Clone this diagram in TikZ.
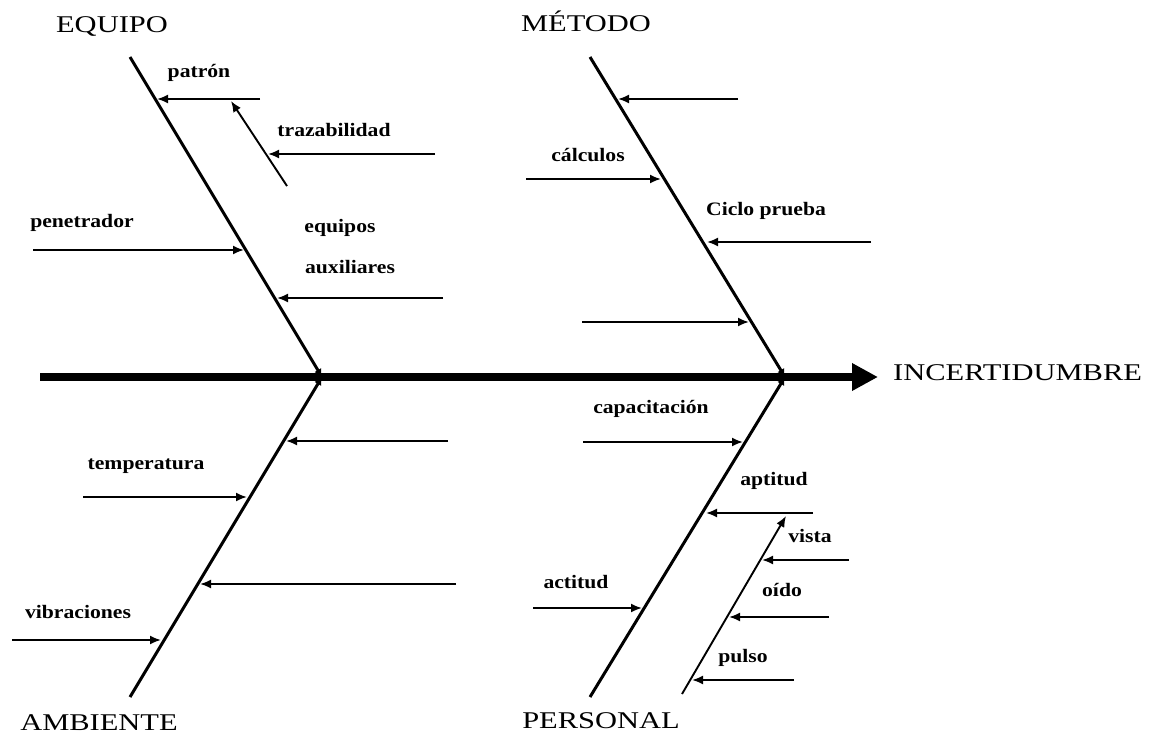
\documentclass[tikz,border=0pt]{standalone}
\usepackage{fontspec}
\setmainfont{Liberation Serif}
\newfontfamily\bigfont[FakeStretch=1.27]{Liberation Serif}
\newfontfamily\labfont[FakeStretch=1.14]{Liberation Serif}
\usetikzlibrary{arrows.meta}

\begin{document}
\begin{tikzpicture}[x=1pt,y=-1pt]
        \useasboundingbox (0,0) rectangle (1153,734);

        % spine and bones
        \coordinate (S) at (40,377);
        \coordinate (H) at (878,377);
        \coordinate (J1) at (322,377);
        \coordinate (J2) at (785,377);
        \coordinate (E0) at (130,57);
        \coordinate (M0) at (590,57);
        \coordinate (A0) at (130,697);
        \coordinate (P0) at (590,697);

        % EQUIPO
        \coordinate (e1a) at (260,99);  \coordinate (e1b) at (157,99);
        \coordinate (e2a) at (287,186); \coordinate (e2b) at (231,101);
        \coordinate (e3a) at (435,154); \coordinate (e3b) at (268,154);
        \coordinate (e4a) at (33,250);  \coordinate (e4b) at (244,250);
        \coordinate (e5a) at (443,298); \coordinate (e5b) at (277,298);
        % METODO
        \coordinate (m1a) at (738,99);  \coordinate (m1b) at (618,99);
        \coordinate (m2a) at (526,179); \coordinate (m2b) at (661,179);
        \coordinate (m3a) at (871,242); \coordinate (m3b) at (707,242);
        \coordinate (m4a) at (582,322); \coordinate (m4b) at (749,322);
        % AMBIENTE
        \coordinate (a1a) at (448,441); \coordinate (a1b) at (286,441);
        \coordinate (a2a) at (83,497);  \coordinate (a2b) at (247,497);
        \coordinate (a3a) at (456,584); \coordinate (a3b) at (200,584);
        \coordinate (a4a) at (12,640);  \coordinate (a4b) at (161,640);
        % PERSONAL
        \coordinate (p1a) at (583,442); \coordinate (p1b) at (743,442);
        \coordinate (p2a) at (813,513); \coordinate (p2b) at (706,513);
        \coordinate (p3a) at (682,694); \coordinate (p3b) at (786,516);
        \coordinate (p4a) at (849,560); \coordinate (p4b) at (762,560);
        \coordinate (p5a) at (829,617); \coordinate (p5b) at (729,617);
        \coordinate (p6a) at (794,680); \coordinate (p6b) at (692,680);
        \coordinate (p7a) at (533,608); \coordinate (p7b) at (642,608);

        \begin{scope}[every node/.style={anchor=base,inner sep=0pt,
                    font=\bigfont\fontsize{24}{26}\selectfont}]
            \node (EQ) at (112,32) {EQUIPO};
            \node (ME) at (586,31) {MÉTODO};
            \node (AM) at (99,730) {AMBIENTE};
            \node (PE) at (601,728) {PERSONAL};
            \node[anchor=base west] (IN) at (893,380) {INCERTIDUMBRE};
        \end{scope}

        \begin{scope}[every node/.style={anchor=base,inner sep=0pt,
                    font=\labfont\bfseries\fontsize{19}{21}\selectfont}]
            \node (patron) at (199,77) {patrón};
            \node (traz) at (334,136) {trazabilidad};
            \node (pene) at (82,227) {penetrador};
            \node (equi) at (340,232) {equipos};
            \node (auxi) at (350,273) {auxiliares};
            \node (calc) at (588,161) {cálculos};
            \node (cicl) at (766,215) {Ciclo prueba};
            \node (temp) at (146,469) {temperatura};
            \node (vibr) at (78,618) {vibraciones};
            \node (capa) at (651,413) {capacitación};
            \node (apti) at (774,485) {aptitud};
            \node (vist) at (810,542) {vista};
            \node (oido) at (782,596) {oído};
            \node (puls) at (743,662) {pulso};
            \node (acti) at (576,588) {actitud};
        \end{scope}

        \draw [line width=8pt,-{Triangle[length=26pt,width=26pt]}] (S) -- (H);

        \begin{scope}[every edge/.style={draw,line width=3pt,
                    -{Latex[length=8pt,width=8pt]}}]
            \path (E0) edge (J1);
            \path (A0) edge (J1);
            \path (M0) edge (J2);
            \path (P0) edge (J2);
        \end{scope}

        \begin{scope}[every edge/.style={draw,line width=1.9pt,
                    -{Latex[length=11pt,width=9pt]}}]
            \path (e1a) edge (e1b);
            \path (e2a) edge (e2b);
            \path (e3a) edge (e3b);
            \path (e4a) edge (e4b);
            \path (e5a) edge (e5b);
            \path (m1a) edge (m1b);
            \path (m2a) edge (m2b);
            \path (m3a) edge (m3b);
            \path (m4a) edge (m4b);
            \path (a1a) edge (a1b);
            \path (a2a) edge (a2b);
            \path (a3a) edge (a3b);
            \path (a4a) edge (a4b);
            \path (p1a) edge (p1b);
            \path (p2a) edge (p2b);
            \path (p3a) edge (p3b);
            \path (p4a) edge (p4b);
            \path (p5a) edge (p5b);
            \path (p6a) edge (p6b);
            \path (p7a) edge (p7b);
        \end{scope}
    \end{tikzpicture}
\end{document}
